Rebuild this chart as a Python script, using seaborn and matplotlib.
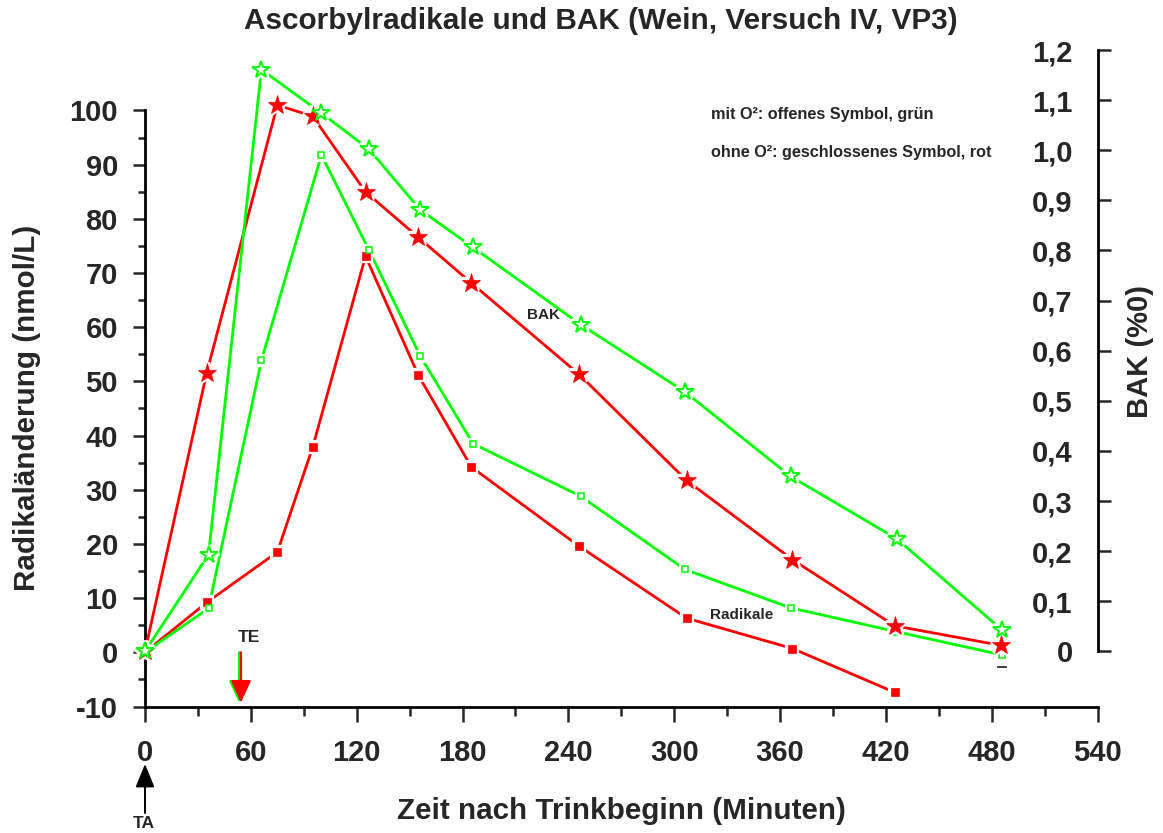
import matplotlib
matplotlib.use("Agg")
import matplotlib.pyplot as plt
import seaborn as sns

# Sampling times in minutes after the start of drinking
time_oxy = [0, 36, 66, 100, 127, 156, 186, 247, 306, 366, 426, 486]
time_nox = [0, 35, 75, 95, 125, 155, 185, 246, 307, 367, 425, 485]

# Blood alcohol concentration (per mille): with O2 (green), without O2 (red)
bak_oxy = [0.0, 0.193, 1.161, 1.074, 1.002, 0.881, 0.806, 0.652, 0.518, 0.349, 0.225, 0.042]
bak_nox = [0.0, 0.556, 1.090, 1.068, 0.917, 0.826, 0.735, 0.553, 0.341, 0.183, 0.051, 0.012]

# Change of ascorbyl radicals (nmol/L)
rad_oxy = [0.0, 8.1, 53.9, 91.8, 74.2, 54.7, 38.5, 28.8, 15.3, 8.2, 3.8, -0.5]
time_rad_nox = [0, 35, 75, 95, 125, 155, 185, 246, 307, 367, 425]
rad_nox = [0.0, 9.2, 18.5, 37.8, 73.1, 51.1, 34.2, 19.6, 6.3, 0.7, -7.4]

# Isolated reading at the last sampling time
extra_time = [486]
extra_value = [-2.8]

# Drinking start (TA) and end (TE), minutes
t_start = 0
t_end_oxy = 53.3
t_end_nox = 54.4

x_ticks = [0, 60, 120, 180, 240, 300, 360, 420, 480, 540]
left_ticks = [-10, 0, 10, 20, 30, 40, 50, 60, 70, 80, 90, 100]
right_ticks = [0, 0.1, 0.2, 0.3, 0.4, 0.5, 0.6, 0.7, 0.8, 0.9, 1.0, 1.1, 1.2]
right_labels = ["0", "0,1", "0,2", "0,3", "0,4", "0,5", "0,6", "0,7", "0,8",
                "0,9", "1,0", "1,1", "1,2"]

RED = "#ff0000"
GREEN = "#00ff00"

sns.set_style("white")
plt.rcParams["font.family"] = ["Liberation Sans", "DejaVu Sans"]
plt.rcParams["font.weight"] = "bold"

W, H = 1163, 833
fig = plt.figure(figsize=(W / 100, H / 100), dpi=100)
ax = fig.add_axes([145 / W, (H - 706.5) / H, (1097.7 - 145) / W, (706.5 - 50) / H])
ax2 = ax.twinx()

ax.set_xlim(0, 540)
ax.set_ylim(-10, 111.16)
ax2.set_ylim(-0.110, 1.2)


def draw_series(axis, x, y, color, marker, ms, filled, mew):
    sns.lineplot(x=x, y=y, ax=axis, color=color, lw=2.0, sort=False,
                 estimator=None, legend=False, zorder=2, clip_on=False)
    # white halo leaves a small gap between line and symbol
    axis.plot(x, y, ls="none", marker=marker, ms=ms, mfc="white", mec="white",
              mew=mew + 4, zorder=3, clip_on=False)
    axis.plot(x, y, ls="none", marker=marker, ms=ms,
              mfc=color if filled else "white", mec=color, mew=mew,
              zorder=4, clip_on=False)


# Radicals on the left axis
draw_series(ax, time_rad_nox, rad_nox, RED, "s", 5.4, True, 0.5)
draw_series(ax, time_oxy, rad_oxy, GREEN, "s", 4.8, False, 1.1)
ax.plot(extra_time, extra_value, ls="none", marker="_", ms=7, mew=1.3,
        color="#303030", zorder=4)

# Blood alcohol on the right axis
draw_series(ax2, time_nox, bak_nox, RED, "*", 14, True, 0.5)
draw_series(ax2, time_oxy, bak_oxy, GREEN, "*", 13, False, 1.4)

# Spines and ticks
for s in ["top", "right"]:
    ax.spines[s].set_visible(False)
for s in ["top", "right", "bottom"]:
    ax2.spines[s].set_visible(False)
ax.spines["left"].set_bounds(-10, 100)
ax.spines["bottom"].set_bounds(0, 540)
for s in ["left", "bottom"]:
    ax.spines[s].set_linewidth(2.0)
    ax.spines[s].set_color("black")

ax.set_xticks(x_ticks)
ax.set_xticklabels([str(v) for v in x_ticks])
ax.set_xticks(list(range(30, 540, 60)), minor=True)
ax.set_yticks(left_ticks)
ax.set_yticklabels([str(v) for v in left_ticks])
ax.set_yticks(list(range(-5, 100, 10)), minor=True)
ax.tick_params(axis="x", which="major", direction="out", length=10.5, width=1.8,
               labelsize=21, pad=13, bottom=True)
ax.tick_params(axis="x", which="minor", direction="out", length=6.5, width=1.8,
               bottom=True)
ax.tick_params(axis="y", which="major", direction="out", length=9, width=1.8,
               labelsize=21, pad=10.5, left=True)
ax.tick_params(axis="y", which="minor", direction="out", length=5.3, width=1.8,
               left=True)

ax2.spines["left"].set_position(("axes", 1.0))
ax2.spines["left"].set_bounds(0, 1.2)
ax2.spines["left"].set_linewidth(2.0)
ax2.spines["left"].set_color("black")
ax2.yaxis.tick_left()
ax2.set_yticks(right_ticks)
ax2.set_yticklabels(right_labels)
ax2.tick_params(axis="y", which="major", direction="in", length=9.6, width=1.8,
                labelsize=21, pad=18, left=True, right=False)

for lab in ax.get_xticklabels() + ax.get_yticklabels() + ax2.get_yticklabels():
    lab.set_fontweight("bold")

# Titles and axis labels
fig.suptitle("Ascorbylradikale und BAK (Wein, Versuch IV, VP3)", x=601 / W,
             y=1 - 21 / H, va="center", fontsize=21.4, fontweight="bold")
ax.set_xlabel("Zeit nach Trinkbeginn (Minuten)", fontsize=21.3, fontweight="bold",
              va="center")
ax.xaxis.set_label_coords(0.5, (706.5 - 811) / 656.5)
ax.set_ylabel("Radikaländerung (nmol/L)", fontsize=21.3, fontweight="bold",
              va="center")
ax.yaxis.set_label_coords((27 - 145) / 952.7, (706.5 - 408) / 656.5)
ax2.set_ylabel("BAK (%0)", fontsize=21, fontweight="bold", va="center",
               rotation=90)
ax2.yaxis.set_label_coords((1140 - 145) / 952.7, (706.5 - 352) / 656.5)

# Annotations
ax.annotate("mit O²: offenes Symbol, grün", xy=(711, H - 114), xycoords="figure pixels",
            ha="left", va="center", fontsize=11.7, fontweight="bold")
ax.annotate("ohne O²: geschlossenes Symbol, rot", xy=(711, H - 152),
            xycoords="figure pixels", ha="left", va="center", fontsize=11.7,
            fontweight="bold")
ax.annotate("BAK", xy=(543, H - 315), xycoords="figure pixels", ha="center",
            va="center", fontsize=11, fontweight="bold")
ax.annotate("Radikale", xy=(742, H - 615), xycoords="figure pixels", ha="center",
            va="center", fontsize=11, fontweight="bold")

# End of drinking (TE)
for t_end, col in [(t_end_oxy, GREEN), (t_end_nox, RED)]:
    ax.annotate("", xy=(t_end, -9.3), xytext=(t_end, 0),
                arrowprops=dict(arrowstyle="-|>,head_length=1.05,head_width=0.48",
                                color=col, lw=1.6, mutation_scale=13,
                                shrinkA=0, shrinkB=0),
                annotation_clip=False, zorder=5)
ax.annotate("TE", xy=(249, H - 638), xycoords="figure pixels", ha="center",
            va="center", fontsize=12.5, fontweight="bold")

# Start of drinking (TA), below the time axis
ax.annotate("", xy=(t_start, H - 764), xytext=(t_start, H - 813),
            xycoords=("data", "figure pixels"), textcoords=("data", "figure pixels"),
            arrowprops=dict(arrowstyle="-|>,head_length=1.1,head_width=0.45",
                            color="black", lw=1.4, mutation_scale=13,
                            shrinkA=0, shrinkB=0),
            annotation_clip=False)
ax.annotate("TA", xy=(144, H - 824), xycoords="figure pixels", ha="center",
            va="center", fontsize=12.5, fontweight="bold")

fig.savefig("out.png", dpi=100)
